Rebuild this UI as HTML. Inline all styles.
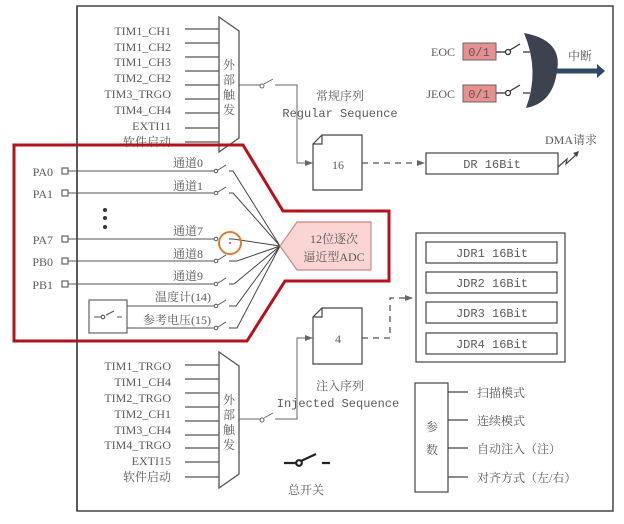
<!DOCTYPE html>
<html><head><meta charset="utf-8"><style>
html,body{margin:0;padding:0;background:#fff;}
svg{display:block;}
text{font-family:"Liberation Serif","Noto Serif CJK SC",serif;fill:#5a5a5a;font-size:12px;}
.m{font-family:"Liberation Mono","Noto Sans CJK SC",monospace;}
</style></head><body>
<svg width="624" height="524" viewBox="0 0 624 524" xmlns="http://www.w3.org/2000/svg">
<defs>
<marker id="ar" markerWidth="8" markerHeight="8" refX="7" refY="4" orient="auto" markerUnits="userSpaceOnUse"><path d="M0,1 L8,4 L0,7 Z" fill="#666"/></marker>
</defs>
<rect x="77" y="6" width="536" height="505" fill="#fff" stroke="#444" stroke-width="1.5"/>

<!-- top mux -->
<g stroke="#555" stroke-width="1.3" fill="none">
<path d="M219,17 L239,31 L239,138 L219,152 Z" fill="#fff"/>
<path d="M185,29H219M185,43H219M185,57H219M185,71H219M185,85H219M185,99H219M185,113H219M185,128H219M185,142H219"/>
</g>
<g text-anchor="end">
<text x="171" y="35">TIM1_CH1</text><text x="171" y="51">TIM1_CH2</text><text x="171" y="66">TIM1_CH3</text><text x="171" y="82">TIM2_CH2</text><text x="171" y="98">TIM3_TRGO</text><text x="171" y="114">TIM4_CH4</text><text x="171" y="130">EXTI11</text><text x="171" y="146">软件启动</text>
</g>
<g text-anchor="middle" font-size="13"><text x="229" y="69">外</text><text x="229" y="84">部</text><text x="229" y="99">触</text><text x="229" y="114">发</text></g>
<g stroke="#666" stroke-width="1" fill="none">
<path d="M239,85H260"/><circle cx="262" cy="86" r="2" fill="#fff"/><path d="M264,84L273,79"/>
<path d="M275,85H297V163H312" marker-end="url(#ar)"/>
</g>
<text x="340" y="100" text-anchor="middle">常规序列</text>
<text x="340" y="117" text-anchor="middle" class="m" font-size="11.5">Regular Sequence</text>
<path d="M322,135H362V190H313V144Z M313,144H322V135" fill="#fff" stroke="#444" stroke-width="1.2"/>
<text x="338" y="169" text-anchor="middle" font-size="14">16</text>
<path d="M362,163H424" stroke="#555" stroke-width="1.3" stroke-dasharray="6,5" fill="none" marker-end="url(#ar)"/>
<rect x="426" y="153" width="132" height="21" fill="#fff" stroke="#444" stroke-width="1.2"/>
<text x="492" y="168" text-anchor="middle" class="m" font-size="11.5">DR 16Bit</text>
<text x="545" y="144" font-size="12">DMA请求</text>
<path d="M558,167L567,159L566,164L578,153" stroke="#444" stroke-width="1.2" fill="none"/>
<path d="M573,153L579,151L577,157Z" fill="#444"/>

<!-- EOC -->
<text x="455" y="56" text-anchor="end">EOC</text>
<text x="455" y="98" text-anchor="end">JEOC</text>
<rect x="463" y="43" width="33" height="17" fill="#e89090" stroke="#666"/>
<rect x="463" y="85" width="33" height="17" fill="#e89090" stroke="#666"/>
<text x="479" y="56" text-anchor="middle" class="m" font-size="11">0/1</text>
<text x="479" y="98" text-anchor="middle" class="m" font-size="11">0/1</text>
<g stroke="#333" stroke-width="1.3" fill="none">
<path d="M496,52H505"/><circle cx="508" cy="52" r="2.5" fill="#fff"/><path d="M510,50L520,44M523,52H530"/>
<path d="M496,93H505"/><circle cx="508" cy="93" r="2.5" fill="#fff"/><path d="M510,91L520,85M523,93H530"/>
</g>
<path d="M524,33 Q563,40 557,71 Q553,103 526,108 Q540,71 524,33Z" fill="#3c4250"/>
<path d="M556,71H598" stroke="#2f4a66" stroke-width="5"/>
<path d="M597,64L605,71L597,78Z" fill="#2f4a66"/>
<text x="568" y="60" font-size="13">中断</text>

<!-- red region -->
<path d="M14,145H243L283,211H389V281H285L247,341H14Z" fill="none" stroke="#b5121b" stroke-width="3"/>
<g text-anchor="end" font-size="12.5">
<text x="53" y="176">PA0</text><text x="53" y="198">PA1</text><text x="53" y="244">PA7</text><text x="53" y="266">PB0</text><text x="53" y="289">PB1</text>
</g>
<g stroke="#555" stroke-width="1.1" fill="none">
<rect x="62" y="168" width="6" height="6" fill="#fff"/><rect x="62" y="190" width="6" height="6" fill="#fff"/>
<rect x="62" y="236" width="6" height="6" fill="#fff"/><rect x="62" y="258" width="6" height="6" fill="#fff"/><rect x="62" y="281" width="6" height="6" fill="#fff"/>
<path d="M68,171H214M68,193H214M68,239H214M68,261H214M68,284H214"/>
<rect x="89" y="300" width="38" height="33"/>
<path d="M94,317H101M106,315L114,311M117,317H122"/><circle cx="103" cy="317" r="1.8" fill="#fff"/>
<path d="M127,306H214M127,328H214"/>
</g>
<line x1="77" y1="6" x2="77" y2="511" stroke="#444" stroke-width="1.5"/>
<g fill="#333"><circle cx="105" cy="210" r="2"/><circle cx="105" cy="218" r="2"/><circle cx="105" cy="227" r="2"/></g>
<g text-anchor="end">
<text x="203" y="167">通道0</text><text x="203" y="190">通道1</text><text x="203" y="235">通道7</text><text x="203" y="258">通道8</text><text x="203" y="280">通道9</text><text x="211" y="301">温度计(14)</text><text x="211" y="324">参考电压(15)</text>
</g>
<g stroke="#555" stroke-width="1" fill="none">
<g fill="#fff"><circle cx="216" cy="171" r="1.8"/><circle cx="216" cy="193" r="1.8"/><circle cx="216" cy="239" r="1.8"/><circle cx="216" cy="261" r="1.8"/><circle cx="216" cy="284" r="1.8"/><circle cx="216" cy="306" r="1.8"/><circle cx="216" cy="328" r="1.8"/></g>
<path d="M218,170L226,165M218,192L226,187M218,260L226,255M218,283L226,278M218,305L226,300M218,327L226,322"/>
<path d="M229,171H233L280,246M229,193H233L280,246M229,239H233L280,246M229,261H237L280,246M229,284H234L280,246M229,306H236L280,246M229,328H237L280,246" stroke="#444"/>
</g>
<circle cx="230" cy="243" r="11" fill="none" stroke="#e07a3a" stroke-width="2"/>
<circle cx="230" cy="243" r="0.9" fill="#c00"/>
<path d="M280,246L297,222H371V270H297Z" fill="#fbd4d4" stroke="#c88" stroke-width="1.2"/>
<text x="334" y="243" text-anchor="middle" font-size="13">12位逐次</text>
<text x="334" y="261" text-anchor="middle" font-size="13">逼近型ADC</text>

<!-- bottom mux -->
<g stroke="#555" stroke-width="1.3" fill="none">
<path d="M219,352 L239,366 L239,474 L219,488 Z" fill="#fff"/>
<path d="M185,365H219M185,379H219M185,393H219M185,407H219M185,421H219M185,435H219M185,448H219M185,462H219M185,477H219"/>
</g>
<g text-anchor="end">
<text x="171" y="370">TIM1_TRGO</text><text x="171" y="386">TIM1_CH4</text><text x="171" y="402">TIM2_TRGO</text><text x="171" y="418">TIM2_CH1</text><text x="171" y="434">TIM3_CH4</text><text x="171" y="449">TIM4_TRGO</text><text x="171" y="465">EXTI15</text><text x="171" y="481">软件启动</text>
</g>
<g text-anchor="middle" font-size="13"><text x="229" y="404">外</text><text x="229" y="419">部</text><text x="229" y="434">触</text><text x="229" y="449">发</text></g>
<g stroke="#666" stroke-width="1" fill="none">
<path d="M239,419H260"/><circle cx="262" cy="420" r="2" fill="#fff"/><path d="M264,418L273,413"/>
<path d="M275,419H297V338H312" marker-end="url(#ar)"/>
</g>
<path d="M322,308H362V364H313V317Z M313,317H322V308" fill="#fff" stroke="#444" stroke-width="1.2"/>
<text x="338" y="343" text-anchor="middle" font-size="14">4</text>
<text x="340" y="390" text-anchor="middle">注入序列</text>
<text x="338" y="407" text-anchor="middle" class="m" font-size="11.5">Injected Sequence</text>
<path d="M362,338H390V298H412" stroke="#555" stroke-width="1.3" stroke-dasharray="6,5" fill="none" marker-end="url(#ar)"/>
<rect x="416" y="233" width="149" height="129" fill="#fff" stroke="#444" stroke-width="1.2"/>
<g fill="#fff" stroke="#444" stroke-width="1.2">
<rect x="426" y="242" width="131" height="21"/><rect x="426" y="272" width="131" height="21"/><rect x="426" y="302" width="131" height="21"/><rect x="426" y="333" width="131" height="21"/>
</g>
<g text-anchor="middle" font-size="11.5">
<text x="492" y="257" class="m">JDR1 16Bit</text><text x="492" y="287" class="m">JDR2 16Bit</text><text x="492" y="317" class="m">JDR3 16Bit</text><text x="492" y="348" class="m">JDR4 16Bit</text>
</g>
<rect x="415" y="383" width="33" height="109" fill="#fff" stroke="#444" stroke-width="1.2"/>
<text x="432" y="431" text-anchor="middle" font-size="14">参</text>
<text x="432" y="454" text-anchor="middle" font-size="14">数</text>
<path d="M448,392H468M448,420H468M448,448H468M448,477H468" stroke="#444" stroke-width="1.2"/>
<text x="477" y="397">扫描模式</text><text x="477" y="425">连续模式</text><text x="477" y="453">自动注入（注）</text><text x="477" y="482">对齐方式（左/右）</text>
<g stroke="#222" stroke-width="2.2" fill="none">
<path d="M284,463H296M301,461L316,454M322,463H330"/><circle cx="299" cy="463" r="2.8" fill="#fff"/>
</g>
<text x="306" y="494" text-anchor="middle">总开关</text>
</svg>
</body></html>
